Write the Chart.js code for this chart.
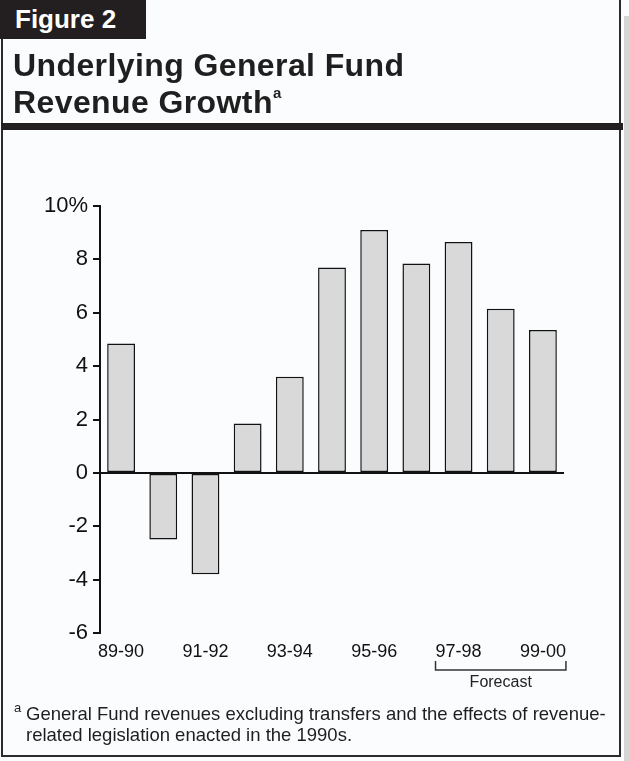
<!DOCTYPE html>
<html>
<head>
<meta charset="utf-8">
<script src="https://cdn.jsdelivr.net/npm/chart.js@4.4.1/dist/chart.umd.min.js"></script>
<style>
  html, body { margin: 0; padding: 0; background: #fbfcfe; }
  #page { position: relative; width: 629px; height: 761px; overflow: hidden; font-family: "Liberation Sans", Arial, sans-serif; color: #1e1e1e; }
  #frame { position: absolute; left: 1px; top: -2px; width: 620px; height: 759px; border: 2px solid #2b2b2b; box-sizing: border-box; }
  #shadow { position: absolute; left: 624px; top: 16px; width: 5px; height: 745px; background: #d6d6d6; }
  #figbox { position: absolute; left: 0; top: 0; width: 146px; height: 39px; background: #231f20; color: #fff; font-weight: bold; font-size: 26px; line-height: 39px; padding-left: 15px; box-sizing: border-box; }
  #title { position: absolute; left: 13px; top: 47px; font-weight: bold; font-size: 32px; line-height: 37px; letter-spacing: 0.4px; color: #1f1f1f; }
  #title sup { font-size: 15px; vertical-align: 15px; line-height: 0; }
  #rule { position: absolute; left: 1px; top: 123px; width: 622px; height: 7px; background: #231f20; }
  #note { position: absolute; left: 26px; top: 703px; font-size: 18.5px; line-height: 21px; color: #1e1e1e; }
  #note .mark { position: absolute; left: -12px; top: -6px; font-size: 13px; }
  canvas { position: absolute; left: 0; top: 0; }
</style>
</head>
<body>
<div id="page">
  <canvas id="chart" width="629" height="761"></canvas>
  <div id="frame"></div>
  <div id="shadow"></div>
  <div id="figbox">Figure 2</div>
  <div id="title">Underlying General Fund<br>Revenue Growth<sup>a</sup></div>
  <div id="rule"></div>
  <div id="note"><span class="mark">a</span>General Fund revenues excluding transfers and the effects of revenue-<br>related legislation enacted in the 1990s.</div>
</div>
<script>
const years = ["89-90", "90-91", "91-92", "92-93", "93-94", "94-95", "95-96", "96-97", "97-98", "98-99", "99-00"];
const growth = [4.85, -2.5, -3.8, 1.85, 3.6, 7.7, 9.1, 7.85, 8.65, 6.15, 5.35];
const yTicks = [-6, -4, -2, 0, 2, 4, 6, 8, 10];
const forecastFrom = "97-98";
const forecastTo = "99-00";
const forecastLabel = "Forecast";

const xFont = { family: "Liberation Sans", size: 18 };

// bracket under the forecast years
const forecastBracket = {
  id: "forecastBracket",
  afterDraw(chart) {
    const x = chart.scales.x;
    const ctx = chart.ctx;
    const i0 = years.indexOf(forecastFrom);
    const i1 = years.indexOf(forecastTo);
    ctx.save();
    ctx.font = xFont.size + "px " + xFont.family;
    const left = x.getPixelForValue(i0) - ctx.measureText(forecastFrom).width / 2;
    const right = x.getPixelForValue(i1) + ctx.measureText(forecastTo).width / 2;
    const top = x.bottom - 12;
    const bottom = top + 9;
    ctx.strokeStyle = "#333";
    ctx.lineWidth = 1.5;
    ctx.beginPath();
    ctx.moveTo(left, top);
    ctx.lineTo(left, bottom);
    ctx.lineTo(right, bottom);
    ctx.lineTo(right, top);
    ctx.stroke();
    ctx.fillStyle = "#222";
    ctx.font = "16px Liberation Sans";
    ctx.textAlign = "center";
    ctx.textBaseline = "middle";
    ctx.fillText(forecastLabel, (left + right) / 2, bottom + 13);
    ctx.restore();
  }
};

new Chart(document.getElementById("chart"), {
  type: "bar",
  data: {
    labels: years,
    datasets: [{
      data: growth,
      backgroundColor: "#d9d9d9",
      borderColor: "#111",
      borderWidth: 1.5,
      borderSkipped: false,
      barPercentage: 0.66,
      categoryPercentage: 1
    }]
  },
  options: {
    responsive: false,
    animation: false,
    layout: { padding: { left: 40, top: 206, right: 65, bottom: 88 } },
    plugins: { legend: { display: false }, tooltip: { enabled: false } },
    scales: {
      x: {
        grid: { display: false, drawTicks: false },
        border: { display: false },
        ticks: {
          autoSkip: false,
          maxRotation: 0,
          padding: 8,
          color: "#111",
          font: xFont,
          callback: (v, i) => (i % 2 === 0 ? years[i] : "")
        },
        afterFit: s => { s.height = 40; }
      },
      y: {
        min: -6,
        max: 10,
        afterBuildTicks: s => { s.ticks = yTicks.map(v => ({ value: v })); },
        grid: {
          color: c => (c.tick && c.tick.value === 0 ? "#111" : "rgba(0,0,0,0)"),
          tickColor: "#111",
          tickLength: 7,
          lineWidth: 2
        },
        border: { color: "#111", width: 2 },
        ticks: {
          padding: 5,
          color: "#111",
          font: { family: "Liberation Sans", size: 22 },
          callback: v => (v === 10 ? "10%" : v)
        },
        afterFit: s => { s.width = 60; }
      }
    }
  },
  plugins: [forecastBracket]
});
</script>
</body>
</html>
